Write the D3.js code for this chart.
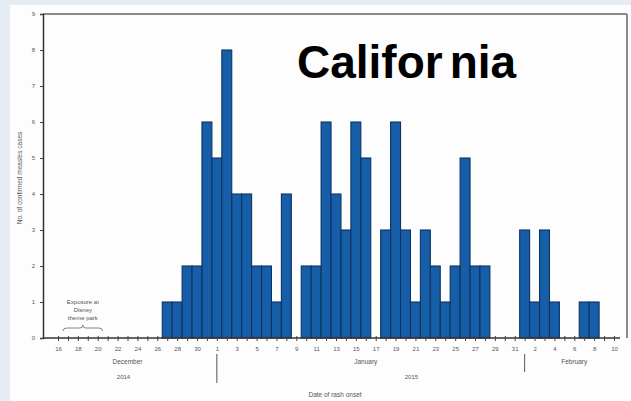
<!DOCTYPE html>
<html>
<head>
<meta charset="utf-8">
<script src="https://cdn.jsdelivr.net/npm/d3@7"></script>
<style>
  body { margin: 0; padding: 0; background: #e6ecf4; }
  svg { display: block; }
</style>
</head>
<body>
<svg id="graph"></svg>
<script>
var width = 631, height = 401;

// cases per day of rash onset, from Dec 16 2014 to Feb 10 2015
var firstDay = "2014-12-16";
var caseCounts = [
  0, 0, 0, 0, 0, 0, 0, 0, 0, 0, 0,          // Dec 16-26
  1, 1, 2, 2, 6,                             // Dec 27-31
  5, 8, 4, 4, 2, 2, 1, 4, 0, 2,              // Jan 1-10
  2, 6, 4, 3, 6, 5, 0, 3, 6, 3,              // Jan 11-20
  1, 3, 2, 1, 2, 5, 2, 2, 0, 0, 0,           // Jan 21-31
  3, 1, 3, 1, 0, 0, 1, 1, 0, 0               // Feb 1-10
];
var yTicks = [0, 1, 2, 3, 4, 5, 6, 7, 8, 9];
var months = [
  {name: "December", date: "2014-12-23"},
  {name: "January", date: "2015-01-16"},
  {name: "February", date: "2015-02-06"}
];
var years = [
  {name: "2014", date: "2014-12-23"},
  {name: "2015", date: "2015-01-21"}
];
var monthStarts = ["2015-01-01", "2015-02-01"];
var exposureLines = ["Exposure at", "Disney", "theme park"];
var exposureSpan = ["2014-12-16T12:00", "2014-12-20T12:00"];

var parse = d3.timeParse("%Y-%m-%d");
var parseT = d3.timeParse("%Y-%m-%dT%H:%M");
var start = parse(firstDay);
var days = caseCounts.map((c, i) => ({date: d3.timeDay.offset(start, i), count: c}));

var svg = d3.select("#graph")
  .attr("width", width)
  .attr("height", height);

// white panel over the slide background
svg.append("rect")
  .attr("x", 0).attr("y", 0)
  .attr("width", width).attr("height", height)
  .attr("fill", "#e6ecf4");
svg.append("rect")
  .attr("x", 10).attr("y", 5)
  .attr("width", width - 10).attr("height", height - 5)
  .attr("fill", "#fdfdfd");

var x = d3.scaleTime()
  .domain([start, days[days.length - 1].date])
  .range([58, 614]);
var y = d3.scaleLinear()
  .domain([0, 9])
  .range([338, 14]);

var left = 43, right = 627;
var dayW = x(d3.timeDay.offset(start, 1)) - x(start);

// frame: top and right
svg.append("line")
  .attr("x1", left).attr("x2", right)
  .attr("y1", y(9)).attr("y2", y(9))
  .attr("stroke", "#8a8a8a").attr("stroke-width", 2);
svg.append("line")
  .attr("x1", right).attr("x2", right)
  .attr("y1", y(9)).attr("y2", y(0))
  .attr("stroke", "#8a8a8a").attr("stroke-width", 2);

// bars
svg.selectAll(".bar")
  .data(days.filter(d => d.count > 0))
  .enter()
  .append("rect")
  .attr("class", "bar")
  .attr("x", d => x(d.date) - dayW / 2)
  .attr("y", d => y(d.count))
  .attr("width", dayW)
  .attr("height", d => y(0) - y(d.count))
  .attr("fill", "#175ea8")
  .attr("stroke", "#0b3360")
  .attr("stroke-width", 1.1);

// y axis
var yAxis = svg.append("g")
  .attr("transform", "translate(" + left + ",0)")
  .call(d3.axisLeft(y).tickValues(yTicks).tickSize(3).tickPadding(5).tickFormat(d3.format("d")));
yAxis.select(".domain").attr("stroke", "#333").attr("stroke-width", 1.5);
yAxis.selectAll(".tick line").attr("stroke", "#444");
yAxis.selectAll("text")
  .attr("font-family", "Liberation Sans, Arial, sans-serif")
  .attr("font-size", "6px")
  .attr("fill", "#555");

// x axis: tick every day, label every other day
var xAxis = svg.append("g")
  .attr("transform", "translate(0," + y(0) + ")")
  .call(d3.axisBottom(x)
    .tickValues(days.map(d => d.date))
    .tickSize(3)
    .tickPadding(6)
    .tickFormat((d, i) => i % 2 == 0 ? d3.timeFormat("%-d")(d) : ""));
xAxis.select(".domain")
  .attr("d", "M" + left + ",0H" + (x(days[days.length - 1].date) + 6))
  .attr("stroke", "#333").attr("stroke-width", 1.5);
xAxis.selectAll(".tick line")
  .attr("y1", -2)
  .attr("stroke", "#444");
xAxis.selectAll("text")
  .attr("font-family", "Liberation Sans, Arial, sans-serif")
  .attr("font-size", "6px")
  .attr("fill", "#555");

// month separators
svg.selectAll(".sep")
  .data(monthStarts)
  .enter()
  .append("line")
  .attr("x1", d => x(parse(d))).attr("x2", d => x(parse(d)))
  .attr("y1", 354)
  .attr("y2", (d, i) => i == 0 ? 383 : 372)
  .attr("stroke", "#555").attr("stroke-width", 1);

svg.selectAll(".month")
  .data(months)
  .enter()
  .append("text")
  .attr("x", d => x(parse(d.date)))
  .attr("y", 364)
  .attr("text-anchor", "middle")
  .attr("font-family", "Liberation Sans, Arial, sans-serif")
  .attr("font-size", "6.5px")
  .attr("fill", "#555")
  .text(d => d.name);

svg.selectAll(".year")
  .data(years)
  .enter()
  .append("text")
  .attr("x", d => x(parse(d.date)) - 4)
  .attr("y", 379)
  .attr("text-anchor", "middle")
  .attr("font-family", "Liberation Sans, Arial, sans-serif")
  .attr("font-size", "6px")
  .attr("fill", "#555")
  .text(d => d.name);

svg.append("text")
  .attr("x", 335)
  .attr("y", 397)
  .attr("text-anchor", "middle")
  .attr("font-family", "Liberation Sans, Arial, sans-serif")
  .attr("font-size", "6.5px")
  .attr("fill", "#555")
  .text("Date of rash onset");

svg.append("text")
  .attr("transform", "translate(22," + ((y(0) + y(9)) / 2 + 2) + ") rotate(-90)")
  .attr("text-anchor", "middle")
  .attr("font-family", "Liberation Sans, Arial, sans-serif")
  .attr("font-size", "6.5px")
  .attr("fill", "#555")
  .text("No. of confirmed measles cases");

// exposure annotation with brace
var bx0 = x(parseT(exposureSpan[0])), bx1 = x(parseT(exposureSpan[1]));
var bm = (bx0 + bx1) / 2;
svg.selectAll(".expo")
  .data(exposureLines)
  .enter()
  .append("text")
  .attr("x", bm)
  .attr("y", (d, i) => 304 + i * 8)
  .attr("text-anchor", "middle")
  .attr("font-family", "Liberation Sans, Arial, sans-serif")
  .attr("font-size", "6px")
  .attr("fill", "#555")
  .text(d => d);
var by = 331;
svg.append("path")
  .attr("d", "M" + bx0 + "," + by + " Q" + bx0 + "," + (by - 3) + " " + (bx0 + 4) + "," + (by - 3)
    + " L" + (bm - 3) + "," + (by - 3) + " Q" + bm + "," + (by - 3) + " " + bm + "," + (by - 6)
    + " Q" + bm + "," + (by - 3) + " " + (bm + 3) + "," + (by - 3)
    + " L" + (bx1 - 4) + "," + (by - 3) + " Q" + bx1 + "," + (by - 3) + " " + bx1 + "," + by)
  .attr("fill", "none")
  .attr("stroke", "#666")
  .attr("stroke-width", 0.8);

// title (the original has a small gap before "nia")
var title = svg.append("text")
  .attr("x", 297)
  .attr("y", 78)
  .attr("font-family", "Liberation Sans, Arial, sans-serif")
  .attr("font-weight", "bold")
  .attr("font-size", "46px")
  .attr("fill", "#000");
title.append("tspan").text("Califor");
title.append("tspan").attr("dx", 7).text("nia");
</script>
</body>
</html>
